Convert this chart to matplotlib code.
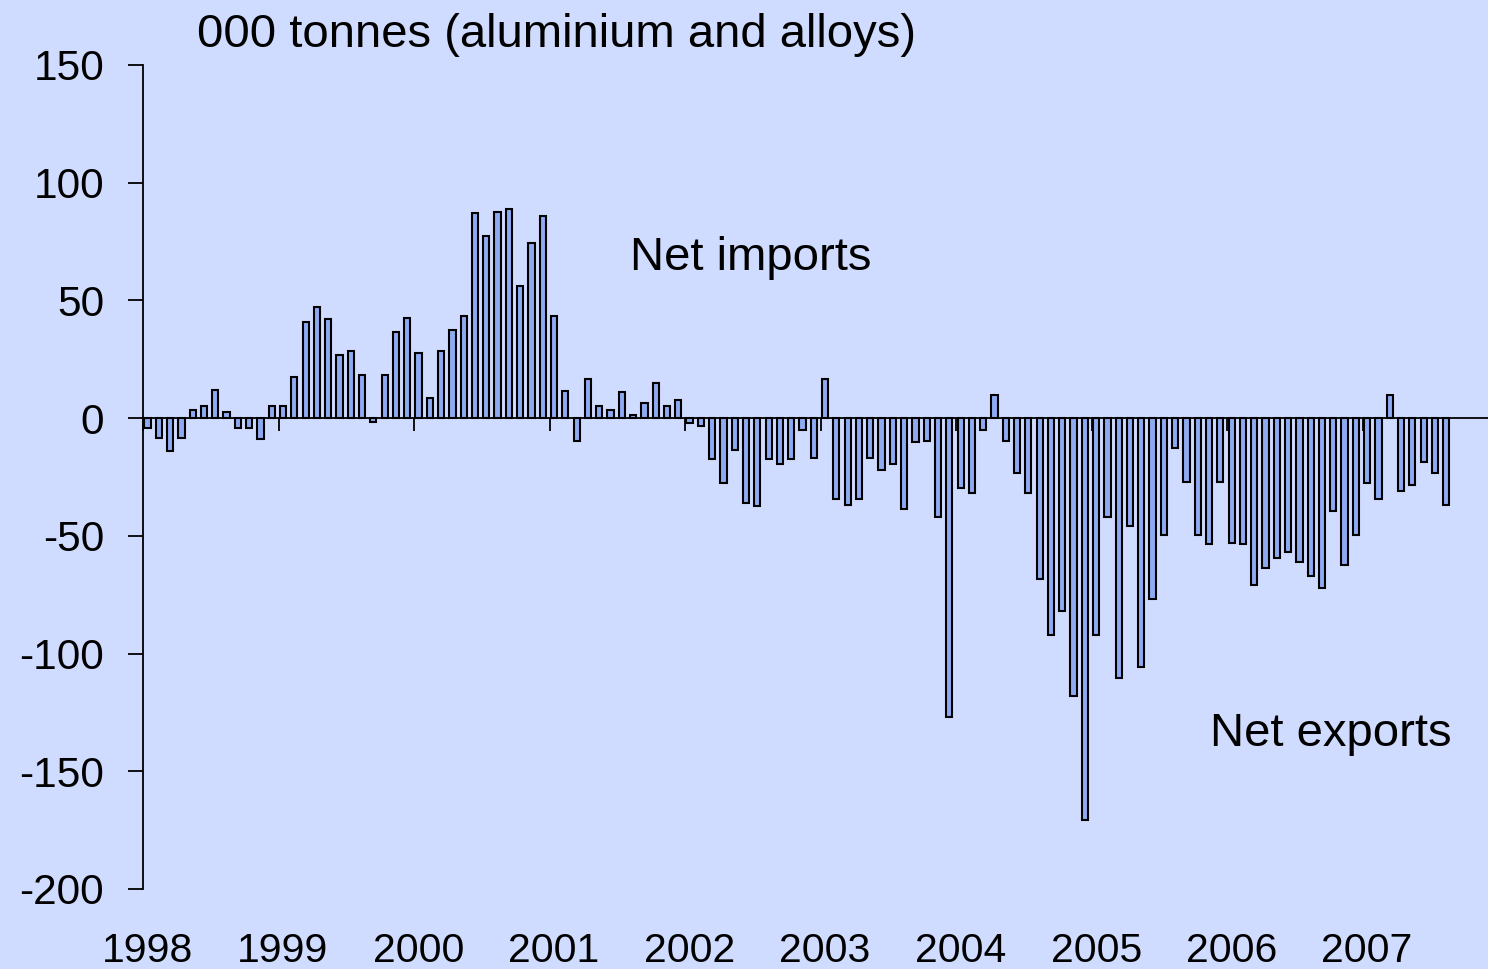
import matplotlib
matplotlib.use('Agg')
import matplotlib.pyplot as plt
import matplotlib.transforms as mtransforms
import numpy as np

plt.rcParams['font.family'] = ['Liberation Sans', 'DejaVu Sans']
plt.rcParams['axes.unicode_minus'] = False

# monthly net trade, Jan 1998 - Aug 2007 (000 tonnes)
years = ['1998', '1999', '2000', '2001', '2002', '2003', '2004', '2005', '2006', '2007']
v1998 = [-4, -8.5, -14, -8.5, 3.5, 5, 12, 2.5, -4, -4, -9, 5]
v1999 = [5, 17.5, 41, 47, 42, 27, 28.5, 18.5, -1.5, 18.5, 36.5, 42.5]
v2000 = [27.5, 8.5, 28.5, 37.5, 43.5, 87, 77.5, 87.5, 89, 56, 74.5, 86]
v2001 = [43.5, 11.5, -9.5, 16.5, 5, 3.5, 11, 1.5, 6.5, 15, 5, 7.5]
v2002 = [-2, -3.5, -17.5, -27.5, -13.5, -36, -37.5, -17.5, -19.5, -17.5, -5, -17]
v2003 = [16.5, -34.5, -37, -34.5, -17, -22, -19.5, -38.5, -10, -9.5, -42, -127]
v2004 = [-29.5, -32, -5, 10, -9.5, -23.5, -32, -68.5, -92, -82, -118, -170.5]
v2005 = [-92, -42, -110.5, -46, -105.5, -77, -49.5, -12.5, -27, -49.5, -53.5, -27]
v2006 = [-53, -53.5, -71, -63.5, -59.5, -57, -61, -67, -72, -39.5, -62.5, -49.5]
v2007 = [-27.5, -34.5, 10, -31, -28.5, -18.5, -23.5, -37]

values = v1998 + v1999 + v2000 + v2001 + v2002 + v2003 + v2004 + v2005 + v2006 + v2007
months = np.arange(len(values))

bg = '#D0DCFF'
fig = plt.figure(figsize=(14.88, 9.69), dpi=100, facecolor=bg)
ax = fig.add_axes([143 / 1488, 80 / 969, 1 - 143 / 1488, 824 / 969])
ax.set_facecolor(bg)

ax.bar(months + 0.4, values, width=0.55, color='#8EAAF2', edgecolor='black', linewidth=1.5, zorder=2)

ax.set_xlim(0, 119.1)
ax.set_ylim(-200, 150)
ax.set_yticks(range(-200, 151, 50))

for s in ['top', 'right']:
    ax.spines[s].set_visible(False)
ax.spines['bottom'].set_position(('data', 0))
ax.spines['bottom'].set_linewidth(1.3)
ax.spines['bottom'].set_zorder(3)
ax.spines['left'].set_linewidth(1.3)

ax.set_xticks(np.arange(0, 120, 12))
ax.set_xticklabels([])
ax.tick_params(axis='x', direction='out', length=9, width=1.3)
ax.tick_params(axis='y', direction='out', length=11, width=1.3, pad=17, labelsize=30.5)

trans = mtransforms.blended_transform_factory(ax.transData, ax.transAxes)
for k, yr in enumerate(years):
    ax.text(k * 12 + 0.4, -0.0755, yr, transform=trans, ha='center', va='center', fontsize=29.5)

fig.text(197 / 1488, 1 - 35 / 969, '000 tonnes (aluminium and alloys)', ha='left', va='center', fontsize=34)
ax.text(53.8, 68, 'Net imports', ha='center', va='center', fontsize=34)
ax.text(105.2, -134.2, 'Net exports', ha='center', va='center', fontsize=34)

fig.savefig('out.png', dpi=100, facecolor=bg)
